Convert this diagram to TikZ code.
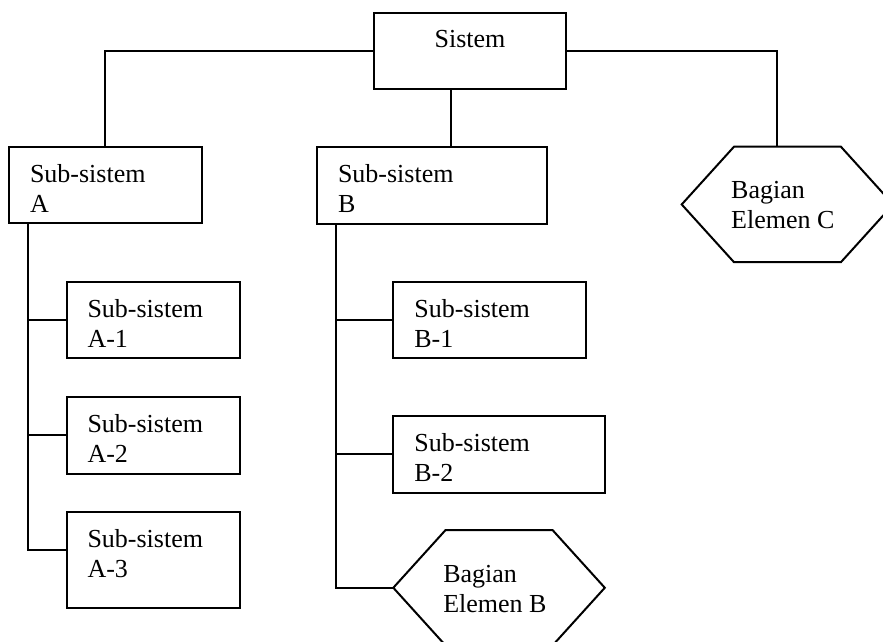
\documentclass[tikz,border=0pt]{standalone}
\usepackage{fontspec}
\setmainfont{Liberation Serif}
\usetikzlibrary{calc}

% Fixed-size cell body: width, height, left pad, first baseline, lines
\newcommand\celltext[5]{\begin{minipage}[t][#2][t]{#1}\setlength{\parindent}{0pt}\setlength{\leftskip}{#3}\rule{0pt}{#4}#5\end{minipage}}
% Same, with the text centred
\newcommand\celltextc[4]{\begin{minipage}[t][#2][t]{#1}\centering\rule{0pt}{#3}#4\end{minipage}}

\tikzset{
  unit/.style={draw, line width=2pt, inner sep=0pt, outer sep=0pt,
               anchor=north west, font=\fontsize{26}{30}\selectfont},
  hexframe/.style={unit, draw=none},
  link/.style={line width=2pt}
}

% Hexagon drawn on the frame of a named node, with chamfer #2
\newcommand\hexoutline[2]{%
  \draw[link] (#1.west) -- ([xshift=#2]#1.north west) -- ([xshift=-#2]#1.north east)
    -- (#1.east) -- ([xshift=-#2]#1.south east) -- ([xshift=#2]#1.south west) -- cycle;}

\begin{document}
\begin{tikzpicture}[x=1pt,y=-1pt]
  \useasboundingbox (0,0) rectangle (883,642);

  % top level
  \node[unit] (sis) at (374,12.7) {\celltextc{192pt}{76.3pt}{34.6pt}{Sistem}};

  % second level
  \node[unit] (subA) at (9,146.7) {\celltext{192.7pt}{76pt}{21pt}{35.5pt}{Sub-sistem\\A}};
  \node[unit] (subB) at (317,146.7) {\celltext{229.7pt}{77.3pt}{21pt}{35.5pt}{Sub-sistem\\B}};
  \node[hexframe] (hC) at (681.7,146.7) {\celltext{211.5pt}{115.5pt}{49.5pt}{52pt}{Bagian\\Elemen C}};
  \hexoutline{hC}{52.3pt}

  % under Sub-sistem A
  \node[unit] (A1) at (67,281.7) {\celltext{173pt}{76.6pt}{20.5pt}{35.5pt}{Sub-sistem\\A-1}};
  \node[unit] (A2) at (67,396.7) {\celltext{173pt}{77pt}{20.5pt}{35.5pt}{Sub-sistem\\A-2}};
  \node[unit] (A3) at (67,512) {\celltext{173pt}{95.7pt}{20.5pt}{35.5pt}{Sub-sistem\\A-3}};

  % under Sub-sistem B
  \node[unit] (B1) at (393.3,281.7) {\celltext{192.3pt}{76pt}{21pt}{35.5pt}{Sub-sistem\\B-1}};
  \node[unit] (B2) at (393.3,415.7) {\celltext{211.7pt}{77pt}{21pt}{35.5pt}{Sub-sistem\\B-2}};
  \node[hexframe] (hB) at (393.3,530) {\celltext{211.5pt}{115.5pt}{50pt}{52pt}{Bagian\\Elemen B}};
  \hexoutline{hB}{52.3pt}

  % connectors from the top box
  \coordinate (sisdrop) at ($(sis.south west)!0.401!(sis.south east)$);
  \coordinate (hCtop) at ($(hC.north west)!0.452!(hC.north east)$);
  \draw[link] (sis.west) -| (subA.north);
  \draw[link] (sis.east) -| (hCtop);
  \draw[link] (sisdrop) -- (sisdrop |- subB.north);

  % trunk of A
  \coordinate (Atrunk) at ([xshift=19.3pt]subA.south west);
  \coordinate (A3in) at ($(A3.north west)!0.4!(A3.south west)$);
  \draw[link] (Atrunk) |- (A3in);
  \draw[link] (Atrunk |- A1.west) -- (A1.west);
  \draw[link] (Atrunk |- A2.west) -- (A2.west);

  % trunk of B
  \coordinate (Btrunk) at ([xshift=19pt]subB.south west);
  \draw[link] (Btrunk) |- (hB.west);
  \draw[link] (Btrunk |- B1.west) -- (B1.west);
  \draw[link] (Btrunk |- B2.west) -- (B2.west);
\end{tikzpicture}
\end{document}
